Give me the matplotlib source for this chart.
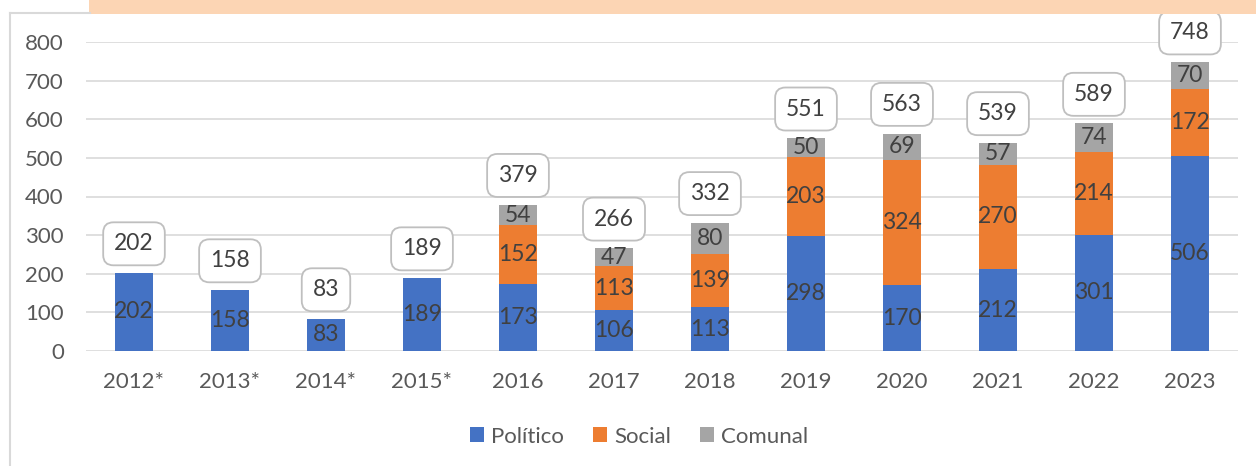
import matplotlib.pyplot as plt
from matplotlib.patches import Rectangle
from matplotlib.lines import Line2D
import numpy as np

years = ['2012*', '2013*', '2014*', '2015*', '2016', '2017', '2018',
         '2019', '2020', '2021', '2022', '2023']
politico = [202, 158, 83, 189, 173, 106, 113, 298, 170, 212, 301, 506]
social = [0, 0, 0, 0, 152, 113, 139, 203, 324, 270, 214, 172]
comunal = [0, 0, 0, 0, 54, 47, 80, 50, 69, 57, 74, 70]
totals = [202, 158, 83, 189, 379, 266, 332, 551, 563, 539, 589, 748]

plt.rcParams['font.family'] = ['Lato', 'DejaVu Sans']

fig = plt.figure(figsize=(12.56, 4.66), dpi=100)
ax = fig.add_axes([86 / 1256, 1 - 351 / 466, 1152 / 1256, 309 / 466])

# marco y banda superior
fig.add_artist(Line2D([10 / 1256, 10 / 1256], [0, 1 - 13 / 466],
                      transform=fig.transFigure, color='#d9d9d9', lw=1.5))
fig.add_artist(Line2D([10 / 1256, 90 / 1256], [1 - 13 / 466, 1 - 13 / 466],
                      transform=fig.transFigure, color='#d9d9d9', lw=1.5))
fig.add_artist(Rectangle((89 / 1256, 1 - 14 / 466), 1 - 89 / 1256, 14 / 466,
                         transform=fig.transFigure, color='#fcd5b4', lw=0))

x = np.arange(len(years))
w = 0.4
b1 = ax.bar(x, politico, w, color='#4472c4', label='Político', zorder=3)
b2 = ax.bar(x, social, w, bottom=politico, color='#ed7d31', label='Social', zorder=3)
bot3 = np.array(politico) + np.array(social)
b3 = ax.bar(x, comunal, w, bottom=bot3, color='#a5a5a5', label='Comunal', zorder=3)

for bars, vals in [(b1, politico), (b2, social), (b3, comunal)]:
    labels = [str(v) if v > 0 else '' for v in vals]
    ax.bar_label(bars, labels=labels, label_type='center', fontsize=16.5,
                 color='#404040', zorder=4)

for i, t in enumerate(totals):
    ax.annotate(str(t), (x[i], t), xytext=(0, 21), textcoords='offset points',
                ha='center', va='center', fontsize=16.5, color='#404040',
                bbox=dict(boxstyle='round,pad=0.48,rounding_size=0.45', fc='white',
                          ec='#bfbfbf', lw=1.3))

ax.set_ylim(0, 800)
ax.set_xlim(-0.5, len(years) - 0.5)
ax.set_yticks(range(0, 801, 100))
ax.set_xticks(x)
ax.set_xticklabels(years)
ax.grid(axis='y', color='#d9d9d9', lw=1.2, zorder=0)
for s in ax.spines.values():
    s.set_visible(False)
ax.tick_params(length=0, labelsize=16, colors='#595959')
ax.tick_params(axis='y', pad=16)
ax.tick_params(axis='x', pad=15)

ax.legend(loc='upper center', bbox_to_anchor=(0.48, -0.18), ncol=3, frameon=False,
          fontsize=16, labelcolor='#595959', handlelength=0.65, handleheight=0.65,
          handletextpad=0.3, columnspacing=1.3)

fig.savefig('out.png')
